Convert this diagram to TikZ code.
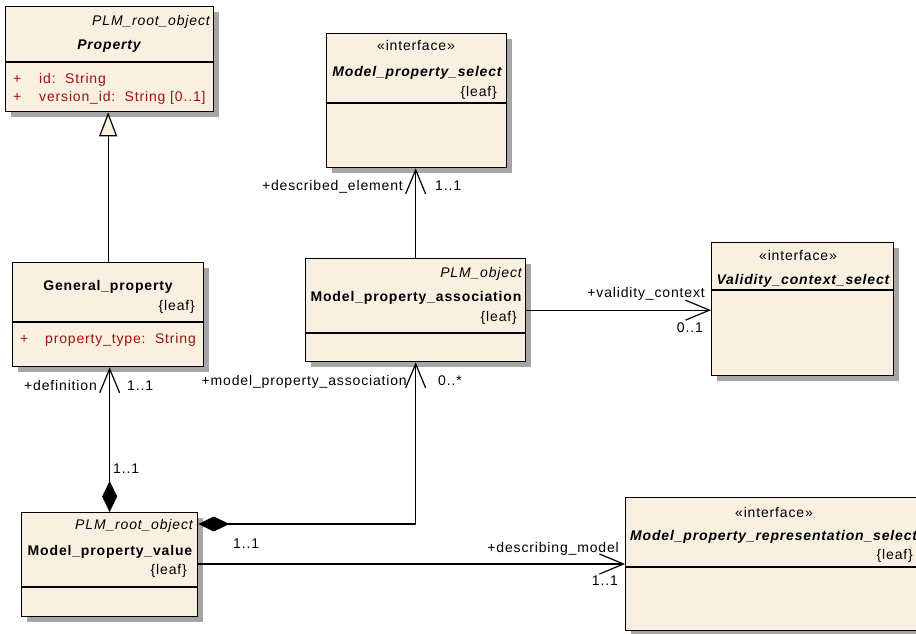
\documentclass[tikz,border=0pt]{standalone}
\usepackage{fontspec}
\setmainfont{Liberation Sans}[LetterSpace=6]
\usetikzlibrary{arrows.meta,shadows,calc}
\definecolor{boxfill}{RGB}{250,240,226}
\definecolor{attrred}{RGB}{160,16,16}
\definecolor{shade}{RGB}{165,165,165}

\tikzset{
  umlclass/.style={draw=black, line width=1.3pt, fill=boxfill, inner sep=0pt,
    anchor=north west,
    drop shadow={shadow xshift=5pt, shadow yshift=-5pt, fill=shade, opacity=1}},
  divider/.style={draw=black, line width=1.2pt},
  txt/.style={inner sep=0pt, font=\fontsize{14}{16}\selectfont},
  stereo/.style={txt, anchor=base},
  cname/.style={txt, anchor=base, font=\fontsize{14}{16}\selectfont\bfseries},
  iname/.style={txt, anchor=base, font=\fontsize{14}{16}\selectfont\bfseries\itshape},
  parent/.style={txt, anchor=base east, font=\fontsize{14}{16}\selectfont\itshape},
  leaf/.style={txt, anchor=base east},
  attr/.style={txt, anchor=base west, text=attrred},
  role/.style={txt, anchor=base east},
  mult/.style={txt, anchor=base west},
  multr/.style={txt, anchor=base east},
  conn/.style={draw=black, line width=1.2pt},
  assoc/.style={conn, -{Straight Barb[length=24pt, width=20pt]}},
  comp/.style={conn, {Diamond[length=31pt, width=15pt]}-{Straight Barb[length=24pt, width=20pt]}},
  gen/.style={conn, -{Triangle[open, length=24pt, width=18pt, fill=boxfill]}},
}

\begin{document}
\begin{tikzpicture}[x=1pt, y=-1pt]
\useasboundingbox (0,0) rectangle (916,633);
\fill[white] (0,0) rectangle (916,633);
\clip (0,0) rectangle (916,633);

% ---- Property
\node[umlclass, minimum width=208pt, minimum height=105pt] (prop) at (5,6) {};
\draw[divider] ($(prop.north west)+(0,56)$) -- ($(prop.north east)+(0,56)$);
\node[parent] (propP) at (210,25) {PLM\_root\_object};
\node[iname] (propN) at (109,49) {Property};
\node[attr] (propA1s) at (13,83) {+};
\node[attr] (propA1) at (39,83) {id:\ \ String};
\node[attr] (propA2s) at (13,101) {+};
\node[attr] (propA2) at (39,101) {version\_id:\ \ String [0..1]};

% ---- General_property
\node[umlclass, minimum width=191pt, minimum height=104pt] (gp) at (12,262) {};
\draw[divider] ($(gp.north west)+(0,60)$) -- ($(gp.north east)+(0,60)$);
\node[cname] (gpN) at (108,290) {General\_property};
\node[leaf] (gpL) at (195,310) {\{leaf\}};
\node[attr] (gpA1s) at (20,343) {+};
\node[attr] (gpA1) at (45,343) {property\_type:\ \ String};

% ---- Model_property_select
\node[umlclass, minimum width=180pt, minimum height=134pt] (mps) at (326,33) {};
\draw[divider] ($(mps.north west)+(0,70)$) -- ($(mps.north east)+(0,70)$);
\node[stereo] (mpsS) at (416,50) {«interface»};
\node[iname] (mpsN) at (417,76) {Model\_property\_select};
\node[leaf] (mpsL) at (497,96) {\{leaf\}};

% ---- Model_property_association
\node[umlclass, minimum width=220pt, minimum height=103pt] (mpa) at (305,258) {};
\draw[divider] ($(mpa.north west)+(0,75)$) -- ($(mpa.north east)+(0,75)$);
\node[parent] (mpaP) at (522,277) {PLM\_object};
\node[cname] (mpaN) at (416,301) {Model\_property\_association};
\node[leaf] (mpaL) at (517,321) {\{leaf\}};

% ---- Validity_context_select
\node[umlclass, minimum width=182pt, minimum height=133pt] (vcs) at (711,242) {};
\draw[divider] ($(vcs.north west)+(0,48)$) -- ($(vcs.north east)+(0,48)$);
\node[stereo] (vcsS) at (798,260) {«interface»};
\node[iname] (vcsN) at (803,284) {Validity\_context\_select};

% ---- Model_property_value
\node[umlclass, minimum width=176pt, minimum height=104pt] (mpv) at (21,512) {};
\draw[divider] ($(mpv.north west)+(0,75)$) -- ($(mpv.north east)+(0,75)$);
\node[parent] (mpvP) at (193,529) {PLM\_root\_object};
\node[cname] (mpvN) at (110,555) {Model\_property\_value};
\node[leaf] (mpvL) at (187,574) {\{leaf\}};

% ---- Model_property_representation_select
\node[umlclass, minimum width=298pt, minimum height=133pt] (mprs) at (625,497) {};
\draw[divider] ($(mprs.north west)+(0,70)$) -- ($(mprs.north east)+(0,70)$);
\node[stereo] (mprsS) at (774,517) {«interface»};
\node[iname, anchor=base west] (mprsN) at (630,540) {Model\_property\_representation\_select};
\node[leaf] (mprsL) at (913,559) {\{leaf\}};

% ---- Connectors
\draw[gen] (gp.north) -- (gp.north |- prop.south);
\draw[comp] (mpv.north) -- (mpv.north |- gp.south);
\draw[assoc] (mpa.north) -- (mpa.north |- mps.south);
\draw[assoc] (mpa.east) -- (mpa.east -| vcs.west);
\coordinate (mpvA) at ($(mpv.north east)+(0,12)$);
\draw[comp] (mpvA) -| (mpa.south);
\coordinate (mpvB) at ($(mpv.north east)+(0,52)$);
\draw[assoc] (mpvB) -- (mpvB -| mprs.west);

% ---- Role names and multiplicities
\node[role] (rDef) at (97,390) {+definition};
\node[mult] (mDef) at (127,390) {1..1};
\node[mult] (mDefC) at (113,473) {1..1};
\node[role] (rDesc) at (403,190) {+described\_element};
\node[mult] (mDesc) at (435,190) {1..1};
\node[role] (rMpa) at (407,385) {+model\_property\_association};
\node[mult] (mMpa) at (438,385) {0..*};
\node[mult] (mMpaC) at (233,548) {1..1};
\node[role] (rVal) at (705,297) {+validity\_context};
\node[multr] (mVal) at (703,332) {0..1};
\node[role] (rDm) at (619,552) {+describing\_model};
\node[multr] (mDm) at (618,585) {1..1};
\end{tikzpicture}
\end{document}
